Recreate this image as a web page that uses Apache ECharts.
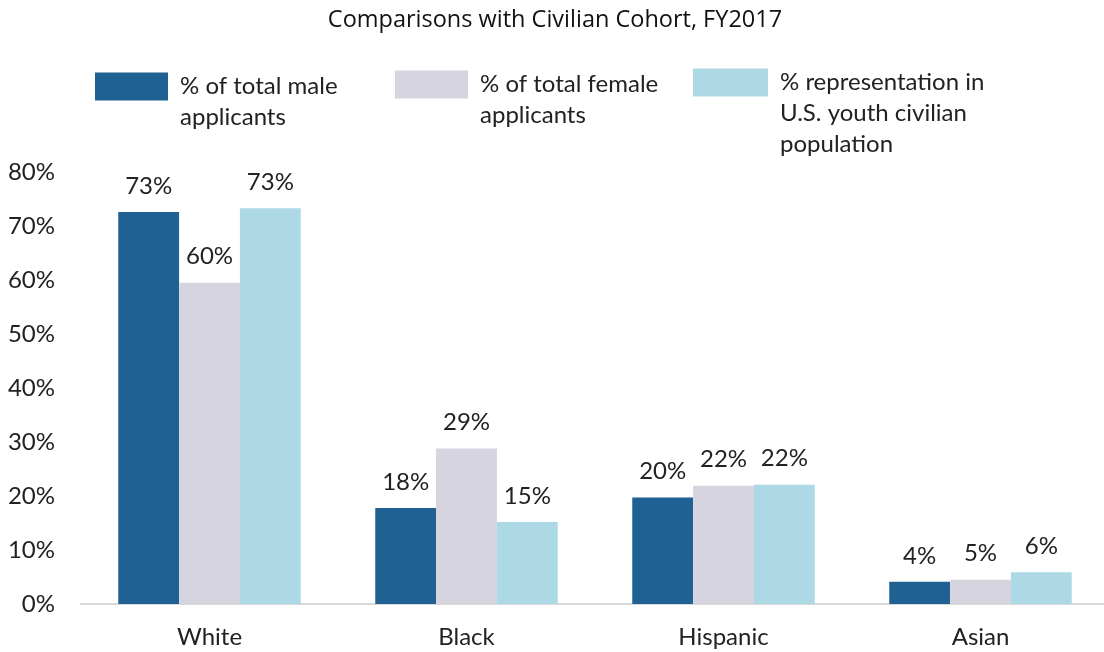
<!DOCTYPE html>
<html><head><meta charset="utf-8">
<script src="https://cdn.jsdelivr.net/npm/echarts@6/dist/echarts.min.js"></script>
<style>html,body{margin:0;padding:0;background:#fff;overflow:hidden}#c{width:1110px;height:652px}</style>
</head><body><div id="c"></div>
<script>
const categories = ['White', 'Black', 'Hispanic', 'Asian'];
const seriesNames = ['% of total male\napplicants', '% of total female\napplicants', '% representation in\nU.S. youth civilian\npopulation'];
const maleValues = [72.6, 17.8, 19.7, 4.1];
const femaleValues = [59.5, 28.8, 21.9, 4.5];
const civilianValues = [73.3, 15.2, 22.1, 5.9];
const yTicks = [0, 10, 20, 30, 40, 50, 60, 70, 80];
const titleText = 'Comparisons with Civilian Cohort, FY2017';

const FONT = 'Lato';
const colors = ['#1F6192', '#D5D4DF', '#ADD8E6'];
const chart = echarts.init(document.getElementById('c'), null, {renderer: 'canvas'});
const labelCfg = {
  show: true, position: 'top', distance: 14,
  fontFamily: FONT, fontSize: 24, color: '#222',
  formatter: p => Math.round(p.value) + '%'
};
function mk(i, data) {
  return {name: seriesNames[i], type: 'bar', data: data, barGap: '0%', barCategoryGap: '29%',
    itemStyle: {color: colors[i]}, label: labelCfg};
}
function lg(i, left, top, blanks, w) {
  return {data: [seriesNames[i]], left: left, top: top, padding: 0, icon: 'rect', itemWidth: w, itemHeight: 28, itemGap: 0,
    selectedMode: false,
    formatter: name => '\n'.repeat(blanks) + name,
    textStyle: {fontFamily: FONT, fontSize: 24, color: '#222', lineHeight: 31, padding: [0, 0, 0, 7]}};
}
chart.setOption({
  animation: false,
  title: {text: titleText, left: 'center', top: 3, textStyle: {fontFamily: 'Open Sans', fontSize: 23.5, fontWeight: 'normal', color: '#111'}},
  legend: [lg(0, 95, 40, 1, 73), lg(1, 395, 38, 1, 73), lg(2, 693, 5, 2, 75)],
  grid: {left: 81, right: 1, top: 172, bottom: 48, containLabel: false},
  xAxis: {type: 'category', data: categories,
    axisLine: {lineStyle: {color: '#D9D9D9', width: 2}}, axisTick: {show: false},
    axisLabel: {fontFamily: FONT, fontSize: 24, color: '#222', margin: 21}},
  yAxis: {type: 'value', min: yTicks[0], max: yTicks[yTicks.length - 1], interval: 10,
    splitLine: {show: false}, axisLine: {show: false}, axisTick: {show: false},
    axisLabel: {fontFamily: FONT, fontSize: 24, color: '#222', margin: 26, formatter: v => v + '%'}},
  series: [mk(0, maleValues), mk(1, femaleValues), mk(2, civilianValues)]
});
</script></body></html>
